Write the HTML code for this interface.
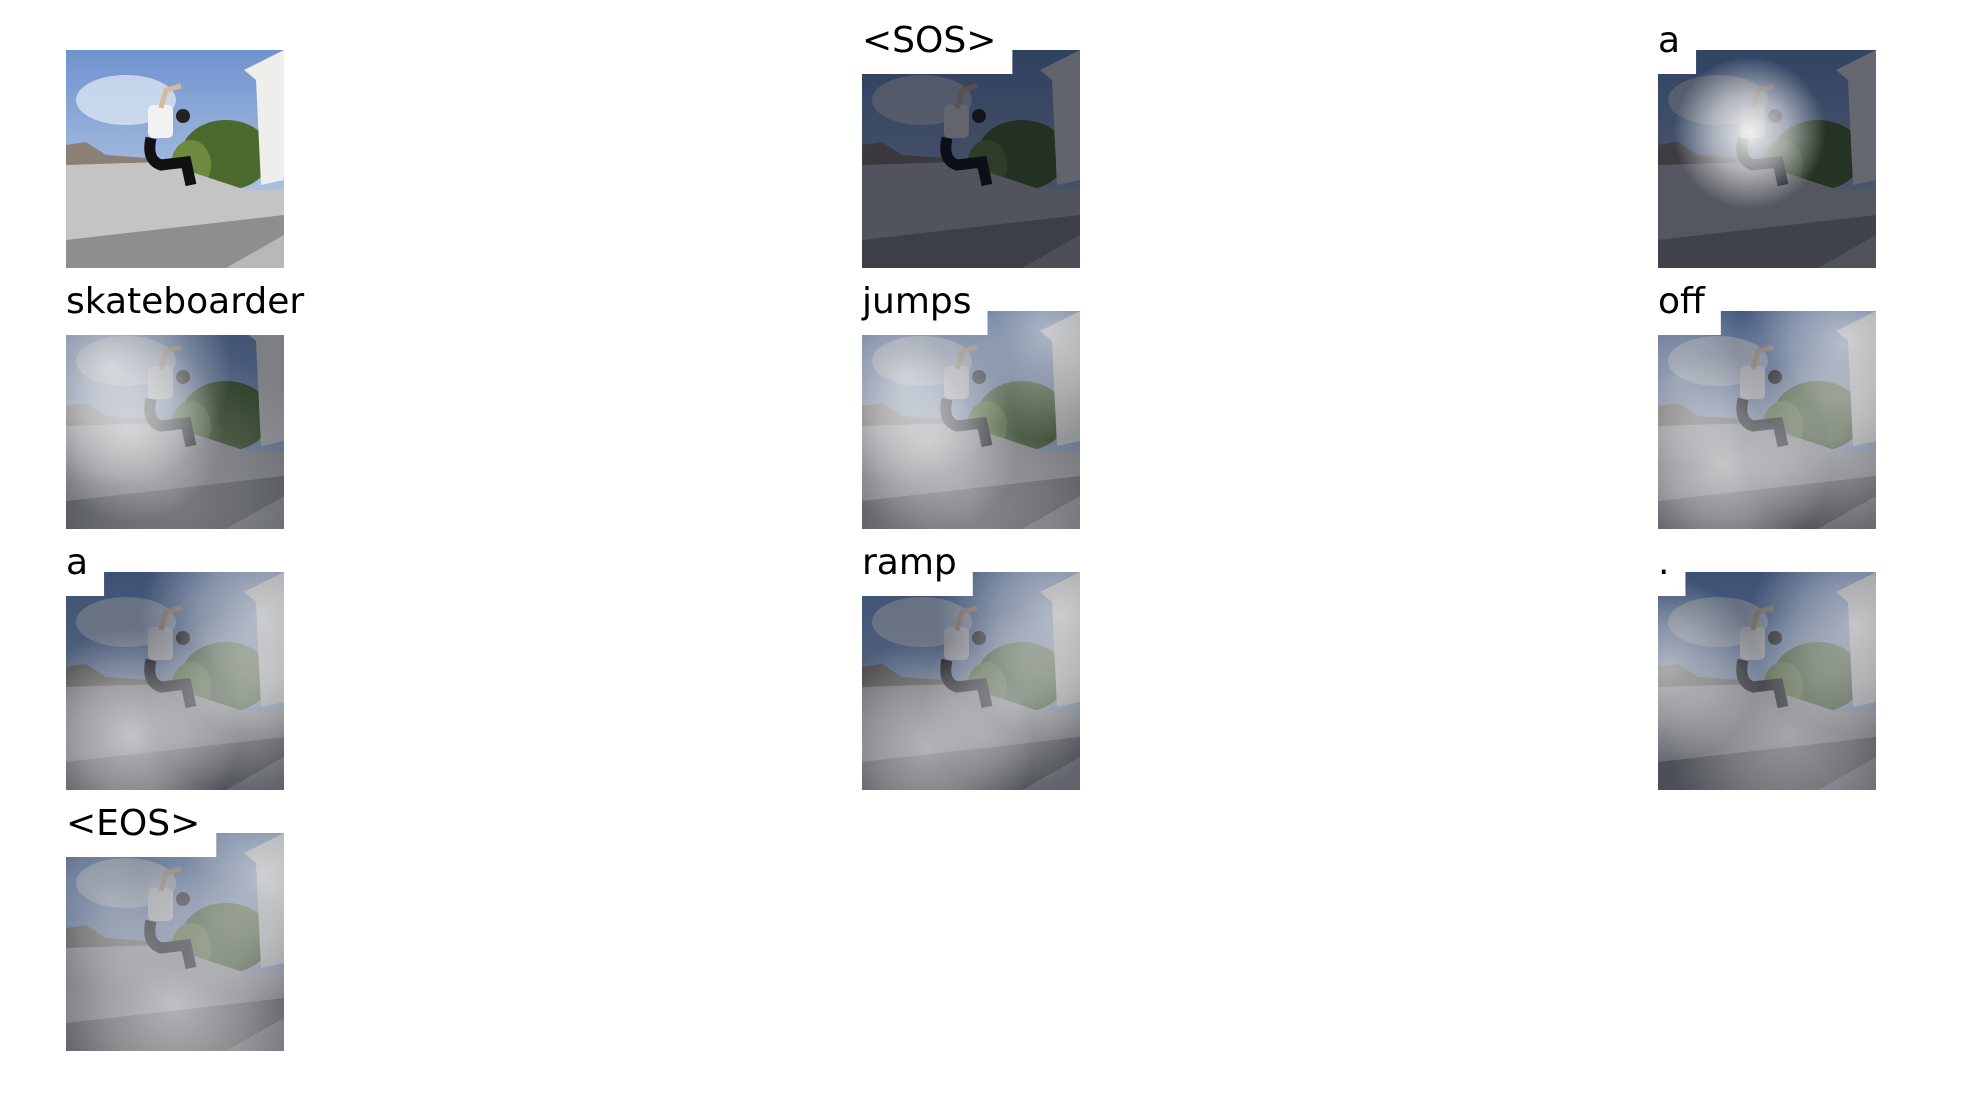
<!DOCTYPE html>
<html><head><meta charset="utf-8"><style>
html,body{margin:0;padding:0;background:#fff;}
svg{display:block;}
text{font-family:"DejaVu Sans","Liberation Sans",sans-serif;}
</style></head><body>
<svg id="fig" width="1980" height="1112" viewBox="0 0 1980 1112" xmlns="http://www.w3.org/2000/svg">
<rect width="1980" height="1112" fill="#fff"/>
</svg>
<script>
const words = ["", "<SOS>", "a", "skateboarder", "jumps", "off", "a", "ramp", ".", "<EOS>"];
const darkness = [0, 0.62, 0.6, 0.5, 0.45, 0.45, 0.5, 0.5, 0.5, 0.45];
const glows = [
  [],
  [],
  [[0.42,0.38,0.25,0.9]],
  [[0.2,0.25,0.4,0.65],[0.3,0.55,0.3,0.5],[0.5,0.85,0.5,0.25]],
  [[0.2,0.3,0.35,0.6],[0.85,0.1,0.35,0.55],[0.3,0.6,0.3,0.45],[0.5,0.9,0.5,0.3]],
  [[0.85,0.15,0.35,0.6],[0.1,0.3,0.3,0.4],[0.3,0.7,0.35,0.6],[0.8,0.6,0.3,0.4]],
  [[0.9,0.2,0.4,0.6],[0.3,0.75,0.35,0.6],[0.8,0.6,0.3,0.4]],
  [[0.9,0.2,0.4,0.6],[0.3,0.8,0.35,0.5],[0.7,0.6,0.3,0.4]],
  [[0.05,0.45,0.3,0.55],[0.9,0.25,0.35,0.55],[0.6,0.75,0.4,0.4]],
  [[0.9,0.2,0.4,0.6],[0.2,0.3,0.3,0.35],[0.5,0.8,0.45,0.55]]
];
const colX = [66, 862, 1658];
const rowY = [50, 311, 572, 833];
const S = 218;
const NS = "http://www.w3.org/2000/svg";
const svg = document.getElementById('fig');
function mk(tag, attrs, parent){const e=document.createElementNS(NS,tag);for(const k in attrs)e.setAttribute(k,attrs[k]);(parent||svg).appendChild(e);return e;}
const defs = mk('defs',{});
const sky = mk('linearGradient',{id:'sky',x1:0,y1:0,x2:0,y2:1},defs);
mk('stop',{offset:'0',  'stop-color':'#6f93cf'},sky);
mk('stop',{offset:'1','stop-color':'#cdd9ea'},sky);
const wg = mk('radialGradient',{id:'glow'},defs);
mk('stop',{offset:'0','stop-color':'#fff','stop-opacity':'1'},wg);
mk('stop',{offset:'0.5','stop-color':'#fff','stop-opacity':'0.6'},wg);
mk('stop',{offset:'1','stop-color':'#fff','stop-opacity':'0'},wg);

words.forEach((w,i)=>{
  const x = colX[i%3], y = rowY[Math.floor(i/3)];
  const g = mk('g',{transform:`translate(${x},${y})`});
  
  
  const cp = mk('clipPath',{id:'c'+i},defs);
  mk('rect',{width:S,height:S},cp);
  const sc = mk('g',{'clip-path':`url(#c${i})`},g);
  mk('rect',{width:S,height:S,fill:'url(#sky)'},sc);
  mk('ellipse',{cx:60,cy:50,rx:50,ry:25,fill:'#e6ecf5',opacity:0.7},sc);
  mk('polygon',{points:'0,95 20,92 40,105 110,110 140,110 140,130 0,130',fill:'#8a8076'},sc);
  mk('ellipse',{cx:160,cy:105,rx:45,ry:35,fill:'#4d6a2e'},sc);
  mk('ellipse',{cx:125,cy:115,rx:20,ry:25,fill:'#6d8a3e'},sc);
  mk('polygon',{points:'178,20 218,0 218,130 195,135 190,30',fill:'#eeeeea'},sc);
  mk('polygon',{points:'0,115 95,112 180,140 218,140 218,170 0,190',fill:'#c4c4c4'},sc);
  mk('polygon',{points:'0,190 218,165 218,218 0,218',fill:'#8e8e8e'},sc);
  mk('polygon',{points:'160,218 218,185 218,218',fill:'#b8b8b8'},sc);
  mk('rect',{x:82,y:55,width:25,height:33,fill:'#f2f2f2',rx:5},sc);
  mk('circle',{cx:117,cy:66,r:7,fill:'#222'},sc);
  mk('path',{d:'M95 58 L100 40 L115 36',stroke:'#d9b89a','stroke-width':5,fill:'none'},sc);
  mk('path',{d:'M85 88 Q80 110 95 115 L120 112 L125 135',stroke:'#111','stroke-width':11,fill:'none'},sc);
  if(darkness[i]>0){
    mk('rect',{width:S,height:S,fill:'#0a0f1c',opacity:darkness[i]},sc);
    glows[i].forEach(q=>{
      mk('circle',{cx:q[0]*S,cy:q[1]*S,r:q[2]*S*1.4,fill:'url(#glow)',opacity:q[3]},sc);
    });
  }
  if(w){
    const t = mk('text',{x:0,y:2,'font-size':36,fill:'#000'},g);
    t.textContent = w;
    
    
    const bw = t.getComputedTextLength()+16;
    const bx = mk('rect',{x:0,y:-40,width:Math.min(bw,S+60),height:64,fill:'#fff'});
    g.insertBefore(bx,t);
  }
});
</script>
</body></html>
